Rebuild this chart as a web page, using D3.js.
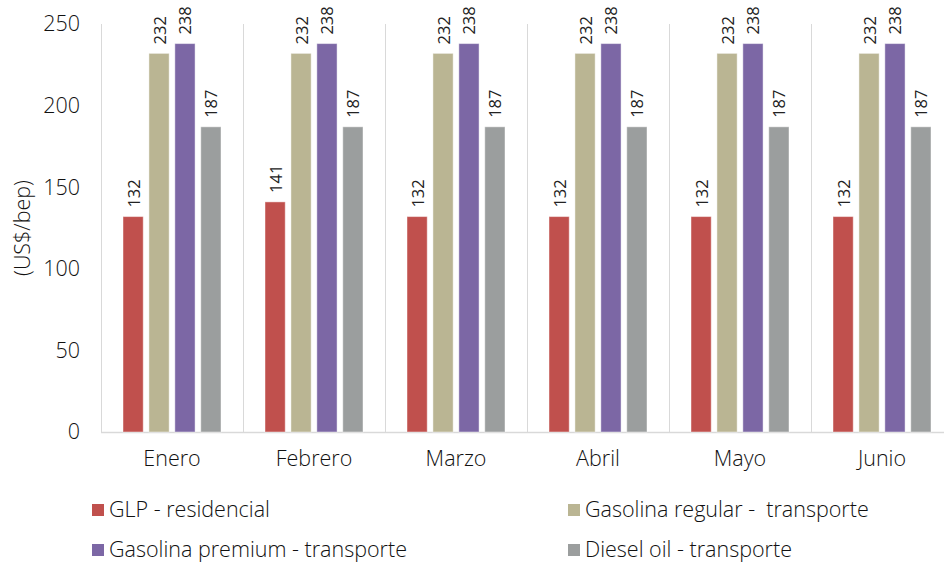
<!DOCTYPE html>
<html><head><meta charset="utf-8">
<script src="https://cdn.jsdelivr.net/npm/d3@7"></script>
<style>body{margin:0;background:#fff}svg{display:block}</style>
</head><body>
<svg id="c" width="944" height="563"></svg>
<script>
const months = ["Enero","Febrero","Marzo","Abril","Mayo","Junio"];
const seriesNames = ["GLP - residencial","Gasolina regular -  transporte","Gasolina premium - transporte","Diesel oil - transporte"];
const glp = [132,141,132,132,132,132];
const gasRegular = [232,232,232,232,232,232];
const gasPremium = [238,238,238,238,238,238];
const diesel = [187,187,187,187,187,187];
const yTicks = [0,50,100,150,200,250];
const colors = ["#C0504D","#BAB593","#7C67A5","#9B9E9E"];
const seriesValues = [glp, gasRegular, gasPremium, diesel];

const svg = d3.select("#c");
const font = "'Open Sans', sans-serif";
const fw = 350;
const fs = 21.5;
const x = d3.scaleBand().domain(months).range([101, 953]).paddingInner(0).paddingOuter(0);
const y = d3.scaleLinear().domain([0,250]).range([432, 24]);
const xs = d3.scaleBand().domain(d3.range(4)).range([22, 142-22]).paddingInner(0.22).paddingOuter(0);

// gridlines at category boundaries
svg.append("g").selectAll("line").data(months).join("line")
  .attr("x1", d=>x(d)+0.5).attr("x2", d=>x(d)+0.5)
  .attr("y1", y(250)).attr("y2", y(0))
  .attr("stroke", "#d9d9d9").attr("stroke-width", 1);

// bottom axis line
svg.append("line").attr("x1",101).attr("x2",944).attr("y1",y(0)+0.5).attr("y2",y(0)+0.5)
  .attr("stroke","#d9d9d9").attr("stroke-width",1.5);

// y axis
const yAxis = d3.axisLeft(y).tickValues(yTicks).tickSize(0).tickPadding(21);
const yg = svg.append("g").attr("transform","translate(101,0)").call(yAxis);
yg.select(".domain").remove();
yg.selectAll("text").attr("font-family",font).attr("font-weight",fw).attr("font-size",fs).attr("fill","#111");

// x axis
const xAxis = d3.axisBottom(x).tickSize(0).tickPadding(19);
const xg = svg.append("g").attr("transform",`translate(0,${y(0)})`).call(xAxis);
xg.select(".domain").remove();
xg.selectAll("text").attr("font-family",font).attr("font-weight",fw).attr("font-size",fs).attr("fill","#111");

// bars
const groups = svg.append("g").selectAll("g").data(months).join("g")
  .attr("transform", d=>`translate(${x(d)},0)`);
groups.each(function(m, mi){
  const g = d3.select(this);
  seriesValues.forEach((vals, si)=>{
    const v = vals[mi];
    g.append("rect").attr("x", xs(si)).attr("width", xs.bandwidth())
      .attr("y", y(v)).attr("height", y(0)-y(v))
      .attr("fill", colors[si]).attr("stroke","#fff").attr("stroke-opacity",0.45).attr("stroke-width",1);
    const cx = xs(si) + xs.bandwidth()/2;
    g.append("text").attr("transform", `translate(${cx+6.5},${y(v)-9}) rotate(-90)`)
      .attr("text-anchor","start").attr("font-family","'Liberation Sans Narrow', 'Open Sans', sans-serif").attr("font-size",16.5)
      .attr("fill","#222").text(v);
  });
});

// y label
svg.append("text").attr("transform","translate(30,228) rotate(-90)").attr("text-anchor","middle")
  .attr("font-family",font).attr("font-weight",fw).attr("font-size",fs).attr("fill","#111").text("(US$/bep)");

// legend
const legPos = [[92,510],[568,510],[92,550],[568,550]];
seriesNames.forEach((n,i)=>{
  const [lx,ly] = legPos[i];
  svg.append("rect").attr("x",lx).attr("y",ly-6).attr("width",12).attr("height",12).attr("fill",colors[i]);
  svg.append("text").attr("x",lx+17).attr("y",ly+7).attr("font-family",font).attr("font-weight",fw).attr("font-size",fs)
    .attr("fill","#111").attr("xml:space","preserve").style("white-space","pre").text(n);
});
</script>
</body></html>
